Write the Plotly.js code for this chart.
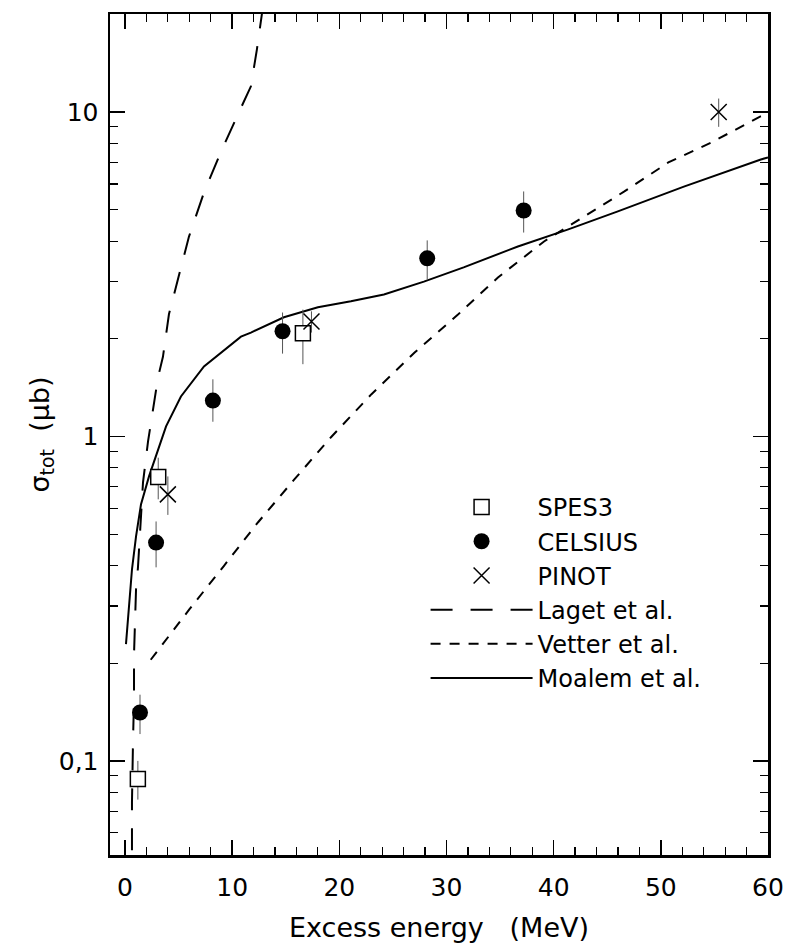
<!DOCTYPE html>
<html><head><meta charset="utf-8">
<script src="https://cdn.plot.ly/plotly-3.0.1.min.js"></script>
<style>body{margin:0;background:#fff}</style>
</head><body><div id="chart" style="width:795px;height:952px"></div>
<script>
// ---- data ----
const spesX = [1.2, 3.1, 16.6];
const spesY = [0.088, 0.75, 2.08];
const spesErrPlus = [0.012, 0.11, 0.38];
const spesErrMinus = [0.012, 0.11, 0.41];

const celsiusX = [1.4, 2.9, 8.2, 14.7, 28.2, 37.2];
const celsiusY = [0.141, 0.471, 1.29, 2.11, 3.54, 4.97];
const celsiusErrPlus = [0.019, 0.076, 0.21, 0.30, 0.48, 0.72];
const celsiusErrMinus = [0.020, 0.076, 0.18, 0.31, 0.49, 0.72];

const pinotX = [4.0, 17.4, 55.4];
const pinotY = [0.663, 2.26, 10.0];
const pinotErr = [0.09, 0.17, 1.0];

const lagetX = [0.65, 0.65, 0.75, 0.84, 0.84, 0.93, 1.03, 1.21, 1.31, 1.68, 2.15, 2.43, 2.71, 3.08, 3.54, 4.10, 4.94, 5.97, 7.37, 8.96, 10.82, 11.75, 12.31, 12.78, 13.06];
const lagetY = [0.053, 0.0745, 0.1165, 0.155, 0.213, 0.289, 0.338, 0.395, 0.455, 0.722, 0.965, 1.11, 1.30, 1.52, 1.76, 2.38, 3.05, 4.13, 5.65, 7.55, 10.3, 12.0, 15.6, 20.1, 22.2];

const vetterX = [2.4, 6.0, 9.2, 12.4, 15.8, 19.2, 23.0, 27.0, 31.1, 34.8, 39.1, 42.8, 46.6, 50.7, 54.7, 59.3, 60.0];
const vetterY = [0.205, 0.293, 0.398, 0.543, 0.737, 0.993, 1.35, 1.81, 2.38, 3.09, 3.99, 4.76, 5.69, 6.99, 8.05, 9.69, 9.89];

const moalemX = [0.09, 0.37, 0.65, 1.03, 1.49, 2.24, 2.89, 3.83, 5.22, 7.37, 10.82, 11.75, 14.83, 18.0, 21.08, 24.16, 27.89, 31.6, 36.66, 41.3, 45.99, 52.15, 59.33, 60.0];
const moalemY = [0.229, 0.308, 0.389, 0.492, 0.617, 0.753, 0.868, 1.074, 1.328, 1.643, 2.03, 2.09, 2.33, 2.50, 2.61, 2.74, 3.00, 3.32, 3.85, 4.34, 4.94, 5.89, 7.14, 7.24];

const yTickVals = [0.1, 1, 10];
const yTickText = ['0,1', '1', '10'];
const xTickVals = [0, 10, 20, 30, 40, 50, 60];
const xTickText = ['0', '10', '20', '30', '40', '50', '60'];

const FONT = 'DejaVu Sans, sans-serif';
const errStyle = {type: 'data', symmetric: false, color: '#555', thickness: 1, width: 0};

const traces = [
  {x: lagetX, y: lagetY, mode: 'lines', name: 'Laget et al.', legendrank: 4,
   line: {color: '#000', width: 2, dash: '22px,18px'}},
  {x: vetterX, y: vetterY, mode: 'lines', name: 'Vetter et al.', legendrank: 5,
   line: {color: '#000', width: 2, dash: '10px,9px'}},
  {x: moalemX, y: moalemY, mode: 'lines', name: 'Moalem et al.', legendrank: 6,
   line: {color: '#000', width: 2}},
  {x: spesX, y: spesY, mode: 'markers', name: 'SPES3', legendrank: 1,
   marker: {symbol: 'square', size: 15, color: '#fff', line: {color: '#000', width: 1.5}},
   error_y: Object.assign({}, errStyle, {array: spesErrPlus, arrayminus: spesErrMinus})},
  {x: celsiusX, y: celsiusY, mode: 'markers', name: 'CELSIUS', legendrank: 2,
   marker: {symbol: 'circle', size: 16, color: '#000'},
   error_y: Object.assign({}, errStyle, {array: celsiusErrPlus, arrayminus: celsiusErrMinus})},
  {x: pinotX, y: pinotY, mode: 'markers', name: 'PINOT', legendrank: 3,
   marker: {symbol: 'x-thin-open', size: 16, color: '#000', line: {color: '#000', width: 1.5}},
   error_y: Object.assign({}, errStyle, {symmetric: true, array: pinotErr})}
];

const layout = {
  width: 795, height: 952,
  margin: {l: 110, r: 27, t: 14, b: 97},
  paper_bgcolor: '#fff', plot_bgcolor: '#fff',
  font: {family: FONT, size: 24, color: '#000'},
  showlegend: true,
  legend: {x: 0.4796, y: 0.44, xanchor: 'left', yanchor: 'top', bgcolor: 'rgba(0,0,0,0)',
           borderwidth: 0, itemwidth: 102, font: {family: FONT, size: 24, color: '#000'}},
  xaxis: {
    range: [-1.4, 60], tickvals: xTickVals, ticktext: xTickText,
    showline: true, linewidth: 2.5, linecolor: '#000', mirror: 'ticks',
    ticks: 'inside', ticklen: 15, tickwidth: 1.5, tickcolor: '#000',
    minor: {dtick: 2, tick0: 0, ticks: 'inside', ticklen: 8, tickwidth: 1.2, tickcolor: '#000', showgrid: false},
    showgrid: false, zeroline: false, ticklabelstandoff: 8,
    tickfont: {family: FONT, size: 25, color: '#000'},
    title: {text: 'Excess energy\u00a0\u00a0 (MeV)', font: {family: FONT, size: 27, color: '#000'}, standoff: 18}
  },
  yaxis: {
    type: 'log', range: [-1.29, 1.302], tickvals: yTickVals, ticktext: yTickText,
    showline: true, linewidth: 2.5, linecolor: '#000', mirror: 'ticks',
    ticks: 'inside', ticklen: 15, tickwidth: 1.5, tickcolor: '#000',
    minor: {dtick: 'D1', ticks: 'inside', ticklen: 8, tickwidth: 1.2, tickcolor: '#000', showgrid: false},
    showgrid: false, zeroline: false, ticklabelstandoff: 4,
    tickfont: {family: FONT, size: 25, color: '#000'},
    title: {text: 'σ<sub>tot</sub>\u00a0 (μb)', font: {family: FONT, size: 27, color: '#000'}, standoff: 2}
  }
};

Plotly.newPlot('chart', traces, layout, {displayModeBar: false, staticPlot: true});
</script>
</body></html>
